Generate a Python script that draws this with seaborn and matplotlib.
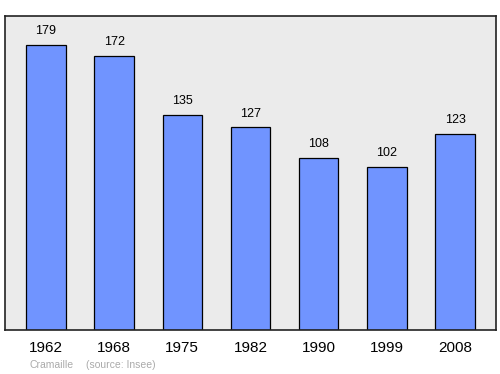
import matplotlib
matplotlib.use("Agg")
import matplotlib.pyplot as plt
import seaborn as sns
import pandas as pd

years = ["1962", "1968", "1975", "1982", "1990", "1999", "2008"]
population = [179, 172, 135, 127, 108, 102, 123]

sns.set_style("white")
plt.rcParams['font.family'] = ['Liberation Sans', 'DejaVu Sans']

fig = plt.figure(figsize=(5, 3.74), dpi=100)
ax = fig.add_axes([0.01, 0.1176, 0.982, 0.84])
df = pd.DataFrame({"year": years, "pop": population})
sns.barplot(data=df, x="year", y="pop", ax=ax, color="#7094ff", saturation=1,
            width=0.58, edgecolor="black", linewidth=0.9)
ax.set_facecolor("#ebebeb")
ax.set_xlim(-0.6, 6.6)
ax.set_ylim(0, 197)
ax.set_xlabel("")
ax.set_ylabel("")
ax.set_yticks([])
ax.tick_params(axis="x", length=0, labelsize=11, pad=8, labelcolor="black")
for s in ax.spines.values():
    s.set_color("#222222")
    s.set_linewidth(1.2)
for i, v in enumerate(population):
    ax.text(i, v + 5, str(v), ha="center", va="bottom", fontsize=9, color="black")
fig.text(0.06, 0.015, "Cramaille", color="#aaaaaa", fontsize=7.5)
fig.text(0.172, 0.015, "(source: Insee)", color="#aaaaaa", fontsize=7.5)
fig.savefig("out.png", dpi=100)
